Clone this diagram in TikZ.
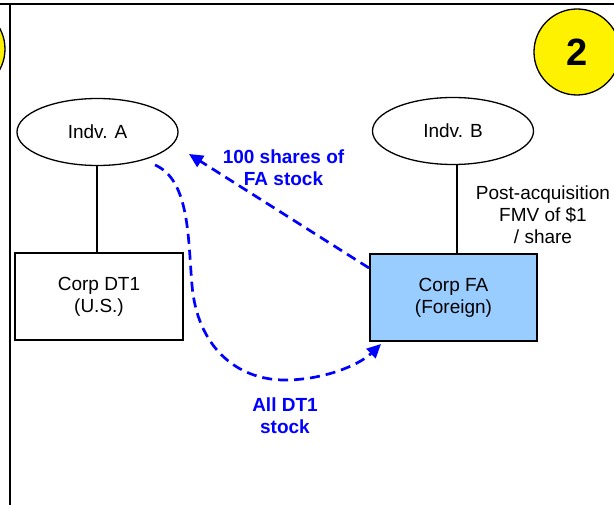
\documentclass[tikz,border=0pt]{standalone}
\usepackage{fontspec}
\setmainfont{Liberation Sans}
\usetikzlibrary{shapes.geometric,arrows.meta}
\definecolor{fablue}{HTML}{99CCFF}
\definecolor{arrowblue}{HTML}{0000FF}
\tikzset{
  txt/.style={font=\fontsize{19}{22}\selectfont, align=center},
  person/.style={ellipse, draw, line width=1.3pt, minimum width=161pt, minimum height=67pt, inner sep=0pt, txt},
  corp/.style={rectangle, draw, line width=1.3pt, minimum width=167pt, minimum height=87pt, inner sep=0pt, txt},
  flow/.style={draw=arrowblue, line width=2.7pt, dash pattern=on 10pt off 6pt, -{Triangle[length=14pt,width=13pt]}},
  flowlbl/.style={text=arrowblue, font=\fontsize{19}{22}\selectfont\bfseries, align=center},
  badge/.style={circle, draw, fill=yellow, line width=1.3pt, minimum size=86pt, inner sep=0pt},
  frame/.style={line width=2.6pt},
  own/.style={line width=1.7pt}
}
\begin{document}
\begin{tikzpicture}[x=1pt,y=-1pt]
\clip (0,0) rectangle (614,505);
\fill[white] (0,0) rectangle (614,505);
% frame
\draw[frame] (0,4) -- (614,4);
\draw[frame] (10,4) -- (10,505);
% badges
\node[badge] (bl) at (-38,49) {};
\node[badge, font=\fontsize{38}{40}\selectfont\bfseries] (br) at (577,52) {2};
% people
\node[person] (A) at (97.5,132) {Indv. A};
\node[person] (B) at (453,131) {Indv. B};
% corps
\node[corp, minimum width=168pt] (DT1) at (99,296.5) {Corp DT1\\(U.S.)};
\node[corp, fill=fablue] (FA) at (453.5,297.5) {Corp FA\\(Foreign)};
% ownership lines
\draw[own] ([xshift=-0.5pt]A.south) -- ([xshift=-0.5pt]A.south |- DT1.north);
\draw[own] ([xshift=4pt]B.south) -- ([xshift=4pt]B.south |- FA.north);
% note
\node[txt] (note) at (543,215) {Post-acquisition\\FMV of \$1\\/ share};
% flows
\coordinate (f1s) at (369,268);
\coordinate (f1e) at (189,154);
\draw[flow] (f1s) -- (f1e);
\node[flowlbl] (l1) at (283.5,167.5) {100 shares of\\FA stock};
\coordinate (f2s) at (155,165);
\coordinate (f2e) at (381,344);
\draw[flow] (f2s) .. controls (190,180) and (188,240) .. (192,285)
  .. controls (197,345) and (235,380) .. (285,380)
  .. controls (322,380) and (358,366) .. (f2e);
\node[flowlbl] (l2) at (285,416) {All DT1\\stock};
\end{tikzpicture}
\end{document}
